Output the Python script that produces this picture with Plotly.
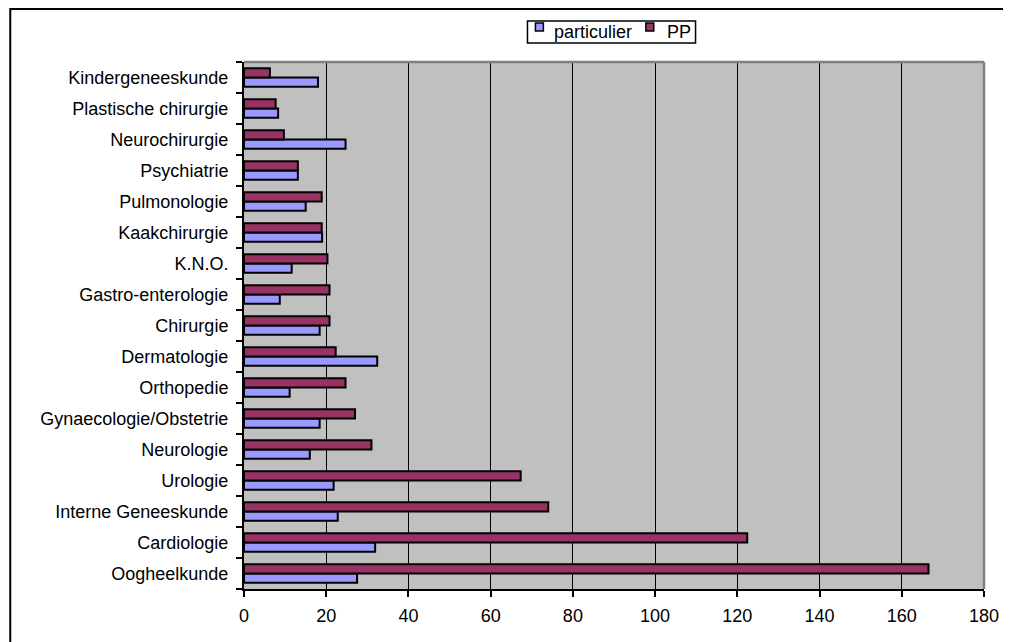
import plotly.graph_objects as go

categories = ["Oogheelkunde", "Cardiologie", "Interne Geneeskunde", "Urologie",
              "Neurologie", "Gynaecologie/Obstetrie", "Orthopedie", "Dermatologie",
              "Chirurgie", "Gastro-enterologie", "K.N.O.", "Kaakchirurgie",
              "Pulmonologie", "Psychiatrie", "Neurochirurgie", "Plastische chirurgie",
              "Kindergeneeskunde"]
particulier = [27.5, 31.9, 22.8, 21.8, 16.0, 18.4, 11.1, 32.4, 18.4, 8.7, 11.6,
               19.0, 15.0, 13.1, 24.7, 8.3, 18.0]
pp = [166.5, 122.4, 74.0, 67.3, 31.0, 27.0, 24.7, 22.3, 20.8, 20.8, 20.3,
      18.9, 18.9, 13.1, 9.7, 7.7, 6.3]
x_ticks = [0, 20, 40, 60, 80, 100, 120, 140, 160, 180]
series_names = ["particulier", "PP"]
series_colors = ["#9999FF", "#993366"]

FONT = "Liberation Sans, Arial, sans-serif"
W, H = 1003, 634
ML, MR, MT, MB = 236, 23, 54, 53
PW, PH = W - ML - MR, H - MT - MB


def px(x):
    return (x - ML) / PW


def py(y):
    return (H - MB - y) / PH


fig = go.Figure()
for name, vals, col in zip(series_names, [particulier, pp], series_colors):
    fig.add_trace(go.Bar(y=categories, x=vals, name=name, orientation="h",
                         showlegend=False,
                         marker=dict(color=col, line=dict(color="black", width=2))))

# legend drawn as box + swatches + text
shapes = [
    dict(type="line", xref="paper", yref="paper", x0=0, x1=1, y0=1, y1=1,
         line=dict(color="#808080", width=2.5)),
    dict(type="line", xref="paper", yref="paper", x0=1, x1=1, y0=0, y1=1,
         line=dict(color="#808080", width=2.5)),
    dict(type="rect", xref="paper", yref="paper", x0=px(1), x1=px(W + 20),
         y0=py(H + 20), y1=py(1), line=dict(color="black", width=2), layer="below"),
    dict(type="rect", xref="paper", yref="paper", x0=px(521), x1=px(690),
         y0=py(35), y1=py(13), line=dict(color="black", width=1.5), fillcolor="white"),
]
annotations = []
sw_x = [529, 640]
tx_x = [546, 659]
for i, (name, col) in enumerate(zip(series_names, series_colors)):
    shapes.append(dict(type="rect", xref="paper", yref="paper",
                       x0=px(sw_x[i]), x1=px(sw_x[i] + 8), y0=py(23), y1=py(15),
                       line=dict(color="black", width=1.5), fillcolor=col))
    annotations.append(dict(xref="paper", yref="paper", x=px(tx_x[i]), y=py(24),
                            xanchor="left", yanchor="middle", showarrow=False,
                            text=name, font=dict(family=FONT, size=18, color="black")))

fig.update_layout(
    width=W, height=H,
    margin=dict(l=ML, r=MR, t=MT, b=MB),
    paper_bgcolor="white", plot_bgcolor="#C0C0C0",
    barmode="group", bargap=0.4, bargroupgap=0,
    font=dict(family=FONT, size=18, color="black"),
    xaxis=dict(range=[0, 180], tickvals=x_ticks, ticktext=[str(v) for v in x_ticks],
               showgrid=True, gridcolor="black", gridwidth=1,
               showline=True, linecolor="black", linewidth=2,
               ticks="outside", ticklen=6, tickwidth=2, tickcolor="black",
               zeroline=False, ticklabelstandoff=3),
    yaxis=dict(range=[-0.5, 16.5], showgrid=False, showline=True, linecolor="black",
               linewidth=2, ticks="outside", ticklen=6, tickwidth=2, tickcolor="black",
               tickson="boundaries", zeroline=False, ticklabelstandoff=10),
    shapes=shapes,
    annotations=annotations,
)

fig.write_html("out.html")
